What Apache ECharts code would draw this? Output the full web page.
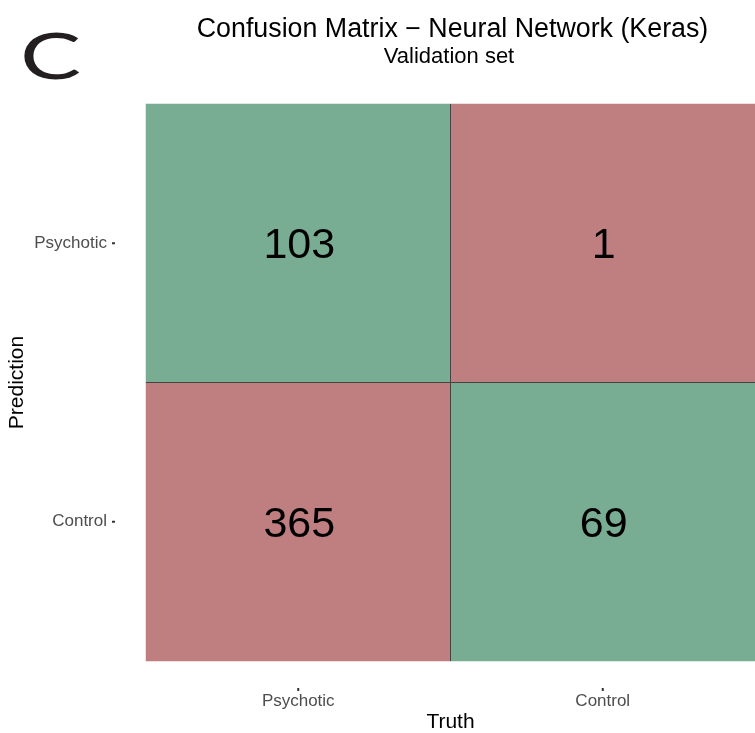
<!DOCTYPE html>
<html>
<head>
<meta charset="utf-8">
<script src="https://cdn.jsdelivr.net/npm/echarts@6/dist/echarts.min.js"></script>
<style>
  html, body { margin: 0; padding: 0; background: #fff; }
  #chart { width: 755px; height: 733px; }
</style>
</head>
<body>
<div id="chart"></div>
<script>
// Class labels shared by both axes
const truthClasses = ['Psychotic', 'Control'];
const predictionClasses = ['Psychotic', 'Control'];

// Counts: one row per predicted class, one column per true class
const predPsychotic = [103, 1];
const predControl = [365, 69];
const countRows = [predPsychotic, predControl];

const correctColor = '#79AD93';
const wrongColor = '#BF7F80';
const font = '"Liberation Sans", Arial, sans-serif';
const tickColor = '#333333';

const cells = [];
countRows.forEach(function (row, p) {
  row.forEach(function (v, t) {
    cells.push({
      value: [t, p, v],
      itemStyle: { color: p === t ? correctColor : wrongColor }
    });
  });
});

const chart = echarts.init(document.getElementById('chart'), null, { renderer: 'canvas' });

chart.setOption({
  backgroundColor: '#ffffff',
  animation: false,
  title: [{
    text: 'Confusion Matrix \u2212 Neural Network (Keras)',
    left: 447.5,
    top: 11,
    textAlign: 'center',
    textStyle: { fontFamily: font, fontSize: 26.8, fontWeight: 'normal', color: '#000' }
  }, {
    text: 'Validation set',
    left: 444,
    top: 41,
    textAlign: 'center',
    textStyle: { fontFamily: font, fontSize: 22, fontWeight: 'normal', color: '#000' }
  }],
  graphic: [{
    type: 'text',
    left: 20,
    top: 26,
    scaleX: 1.43,
    style: {
      text: 'C',
      font: '64px Lato, "Open Sans", sans-serif',
      fill: '#231f20'
    }
  }],
  grid: { left: 146, right: 0, top: 104, bottom: 72, outerBoundsMode: 'none' },
  xAxis: [{
    type: 'category',
    data: truthClasses,
    position: 'bottom',
    name: 'Truth',
    nameLocation: 'middle',
    nameGap: 51,
    nameMoveOverlap: false,
    nameTextStyle: { fontFamily: font, fontSize: 21, color: '#000' },
    axisLine: { show: false },
    axisTick: { show: false },
    axisLabel: {
      margin: 27,
      formatter: function (v) { return '{t|}\n{v|' + v + '}'; },
      rich: {
        t: { width: 2, height: 3, lineHeight: 3, backgroundColor: tickColor, align: 'center' },
        v: { fontFamily: font, fontSize: 17, lineHeight: 20, color: '#4d4d4d', align: 'center' }
      }
    },
    splitLine: { show: false }
  }, {
    type: 'value', min: 0, max: truthClasses.length, show: false
  }],
  yAxis: [{
    type: 'category',
    data: predictionClasses,
    inverse: true,
    name: 'Prediction',
    nameLocation: 'middle',
    nameGap: 118,
    nameMoveOverlap: false,
    nameRotate: 90,
    nameTextStyle: { fontFamily: font, fontSize: 21, color: '#000' },
    axisLine: { show: false },
    axisTick: { show: false },
    axisLabel: {
      margin: 31,
      formatter: function (v) { return '{v|' + v + '}{t|}'; },
      rich: {
        v: { fontFamily: font, fontSize: 17, color: '#4d4d4d', padding: [0, 5, 0, 0], verticalAlign: 'middle' },
        t: { width: 3, height: 2, backgroundColor: tickColor, verticalAlign: 'middle' }
      }
    },
    splitLine: { show: false }
  }, {
    type: 'value', min: 0, max: predictionClasses.length, show: false
  }],
  series: [{
    type: 'heatmap',
    xAxisIndex: 0,
    yAxisIndex: 0,
    data: cells,
    label: {
      show: true,
      fontFamily: font,
      fontSize: 43,
      color: '#000',
      offset: [1, 3],
      formatter: function (p) { return p.value[2]; }
    },
    itemStyle: { borderWidth: 0 },
    emphasis: { disabled: true }
  }, {
    // internal dividers between the tiles
    type: 'line',
    xAxisIndex: 1,
    yAxisIndex: 1,
    data: [],
    markLine: {
      silent: true,
      symbol: 'none',
      label: { show: false },
      lineStyle: { color: '#444', width: 1, type: 'solid' },
      data: [{ xAxis: truthClasses.length / 2 }, { yAxis: predictionClasses.length / 2 }]
    }
  }]
});
</script>
</body>
</html>
